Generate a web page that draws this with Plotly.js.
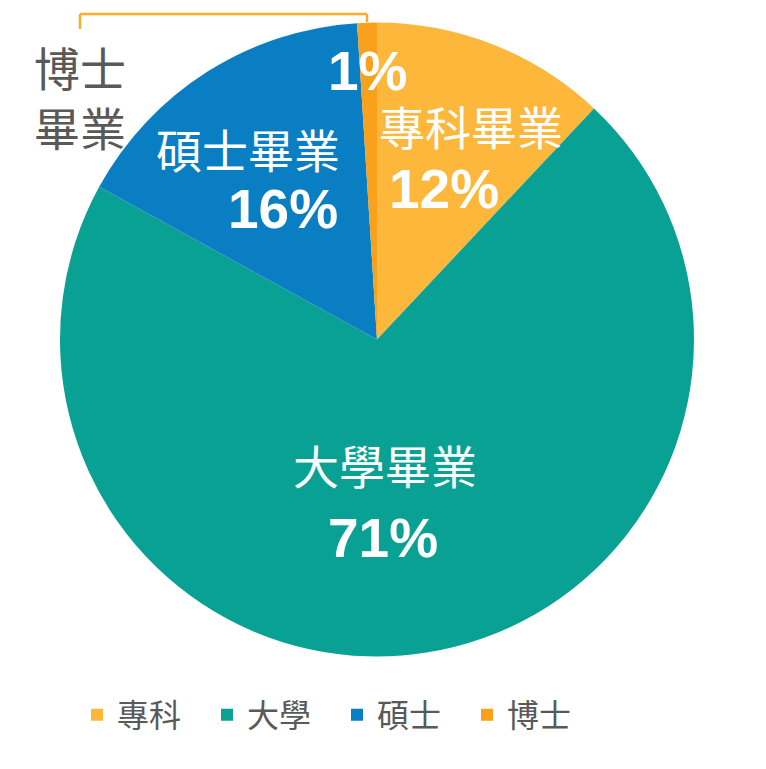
<!DOCTYPE html>
<html>
<head>
<meta charset="utf-8">
<script src="https://cdn.plot.ly/plotly-3.0.1.min.js"></script>
<style>html,body{margin:0;padding:0;background:#fff;}#chart{width:766px;height:769px;}</style>
</head>
<body>
<div id="chart"></div>
<script>
// ---- data ----
const categories = ['專科', '大學', '碩士', '博士'];
const fullLabels = ['專科畢業', '大學畢業', '碩士畢業', '博士畢業'];
const values = [12, 71, 16, 1];
const colors = ['#FDB83C', '#0AA195', '#0A7EC2', '#F9A11B'];

// ---- layout helpers (pixel -> paper) ----
const W = 766, H = 769;
const px = x => x / W;
const py = y => 1 - y / H;

// label positions in pixels: [name center, percent center]
const namePos = [[471, 125], [385, 464], [248, 148], null];
const pctPos = [[444, 189], [383, 538], [283, 209], [368, 71]];

const annotations = [];
const cjk = '"Noto Sans CJK TC", "Noto Sans CJK SC", sans-serif';
const latinBold = '"Liberation Sans", Arial, sans-serif';
for (let i = 0; i < categories.length; i++) {
  if (namePos[i]) {
    annotations.push({
      xref: 'paper', yref: 'paper', x: px(namePos[i][0]), y: py(namePos[i][1]),
      xanchor: 'center', yanchor: 'middle', showarrow: false,
      text: fullLabels[i], font: {family: cjk, size: 46, color: '#ffffff'}
    });
  }
  annotations.push({
    xref: 'paper', yref: 'paper', x: px(pctPos[i][0]), y: py(pctPos[i][1]),
    xanchor: 'center', yanchor: 'middle', showarrow: false,
    text: '<b>' + values[i] + '%</b>', font: {family: latinBold, size: 55, color: '#ffffff'}
  });
}
// outside label for the smallest slice
annotations.push({
  xref: 'paper', yref: 'paper', x: px(80), y: py(96),
  xanchor: 'center', yanchor: 'middle', showarrow: false,
  text: fullLabels[3].slice(0, 2) + '<br>' + fullLabels[3].slice(2),
  font: {family: cjk, size: 46, color: '#595959'}
});

const lineStyle = {color: '#F9AE2B', width: 2.5};
const shapes = [
  {type: 'line', xref: 'paper', yref: 'paper', x0: px(80), y0: py(29), x1: px(80), y1: py(14), line: lineStyle},
  {type: 'line', xref: 'paper', yref: 'paper', x0: px(80), y0: py(14), x1: px(367), y1: py(14), line: lineStyle},
  {type: 'line', xref: 'paper', yref: 'paper', x0: px(367), y0: py(14), x1: px(367), y1: py(22), line: lineStyle}
];

const trace = {
  type: 'pie',
  labels: categories,
  values: values,
  sort: false,
  direction: 'clockwise',
  rotation: 0,
  textinfo: 'none',
  hoverinfo: 'none',
  marker: {colors: colors, line: {width: 0}},
  domain: {x: [px(60), px(694)], y: [py(657), py(22)]}
};

const layout = {
  width: W, height: H,
  margin: {l: 0, r: 0, t: 0, b: 0},
  paper_bgcolor: '#ffffff',
  showlegend: true,
  legend: {
    orientation: 'h', x: px(77), xanchor: 'left', y: py(715), yanchor: 'middle',
    entrywidth: 85, entrywidthmode: 'pixels',
    font: {family: cjk, size: 32, color: '#595959'},
    traceorder: 'normal'
  },
  annotations: annotations,
  shapes: shapes
};

Plotly.newPlot('chart', [trace], layout, {displayModeBar: false, staticPlot: true});
</script>
</body>
</html>
